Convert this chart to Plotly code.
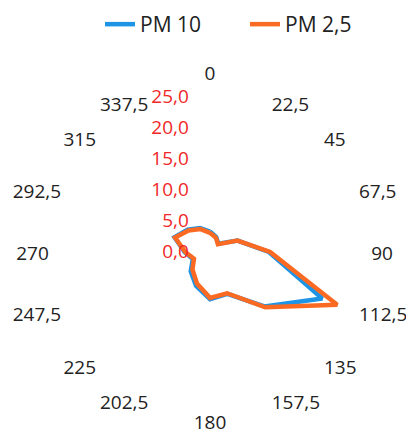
import plotly.graph_objects as go

directions = ["0", "22,5", "45", "67,5", "90", "112,5", "135", "157,5",
              "180", "202,5", "225", "247,5", "270", "292,5", "315", "337,5"]
pm10 = [3.3, 2.6, 1.9, 4.8, 9.5, 19.6, 12.4, 7.3, 7.6, 5.9, 4.4, 3.0, 4.1, 6.2, 5.1, 4.2]
pm25 = [3.1, 2.5, 1.8, 4.8, 9.7, 22.2, 12.6, 7.2, 7.4, 5.5, 4.0, 2.8, 4.0, 6.1, 4.9, 4.0]
radial_ticks = [0, 5, 10, 15, 20, 25]
radial_labels = ["0,0", "5,0", "10,0", "15,0", "20,0", "25,0"]

# the page body adds an 8px margin, so the figure is drawn 8px smaller
OFF = 8
W, H = 414 - OFF, 434 - OFF
FONT = "Open Sans"
CX, CY, R = 210 - OFF, 252 - OFF, 155
RMAX = 25
RMAX2 = 28            # outer helper polar holding the category labels
R2 = R * RMAX2 / RMAX
LCY = CY + 3          # label ring centre, slightly lower


def label_pos(name):
    if name == "0":
        return "top center"
    if name == "180":
        return "bottom center"
    ang = float(name.replace(",", "."))
    return "middle right" if ang < 180 else "middle left"


def label_r(name):
    if name == "0":
        return 27.5
    if name == "180":
        return 25.8
    return 26.0


def dom(cx, cy, r):
    return dict(x=[(cx - r) / W, (cx + r) / W], y=[1 - (cy + r) / H, 1 - (cy - r) / H])


fig = go.Figure()
fig.add_trace(go.Scatterpolar(
    r=pm10 + pm10[:1], theta=directions + directions[:1], mode="lines",
    name="PM 10", line=dict(color="#1e94e6", width=4.5)))
fig.add_trace(go.Scatterpolar(
    r=pm25 + pm25[:1], theta=directions + directions[:1], mode="lines",
    name="PM 2,5", line=dict(color="#fb6a22", width=4.5)))
fig.add_trace(go.Scatterpolar(
    r=[label_r(d) for d in directions], theta=directions, mode="text", subplot="polar2",
    text=directions, textposition=[label_pos(d) for d in directions],
    textfont=dict(size=19, color="#222222", family=FONT),
    showlegend=False, hoverinfo="skip"))

hidden_angular = dict(type="category", categoryarray=directions,
                      rotation=90, direction="clockwise",
                      showgrid=False, showline=False, ticks="", showticklabels=False)

fig.update_layout(
    width=W, height=H,
    margin=dict(l=0, r=0, t=0, b=0, autoexpand=False),
    paper_bgcolor="white",
    font=dict(family=FONT, size=19, color="#222222"),
    showlegend=True,
    legend=dict(orientation="h", x=(100 - OFF) / W, xanchor="left",
                y=1 + 4 / H, yanchor="top", entrywidth=100,
                font=dict(size=21, color="#222222"), bgcolor="rgba(0,0,0,0)"),
    polar=dict(
        domain=dom(CX, CY, R),
        bgcolor="rgba(0,0,0,0)",
        angularaxis=hidden_angular,
        radialaxis=dict(
            range=[0, RMAX], tickvals=radial_ticks, ticktext=radial_labels,
            angle=90, side="counterclockwise", tickangle=90,
            showgrid=False, showline=False,
            ticks="outside", ticklen=14, tickcolor="rgba(0,0,0,0)",
            tickfont=dict(size=19, color="#f02828", family=FONT)),
    ),
    polar2=dict(
        domain=dom(CX, LCY, R2),
        bgcolor="rgba(0,0,0,0)",
        angularaxis=hidden_angular,
        radialaxis=dict(range=[0, RMAX2], visible=False),
    ),
)

fig.write_html("out.html")
